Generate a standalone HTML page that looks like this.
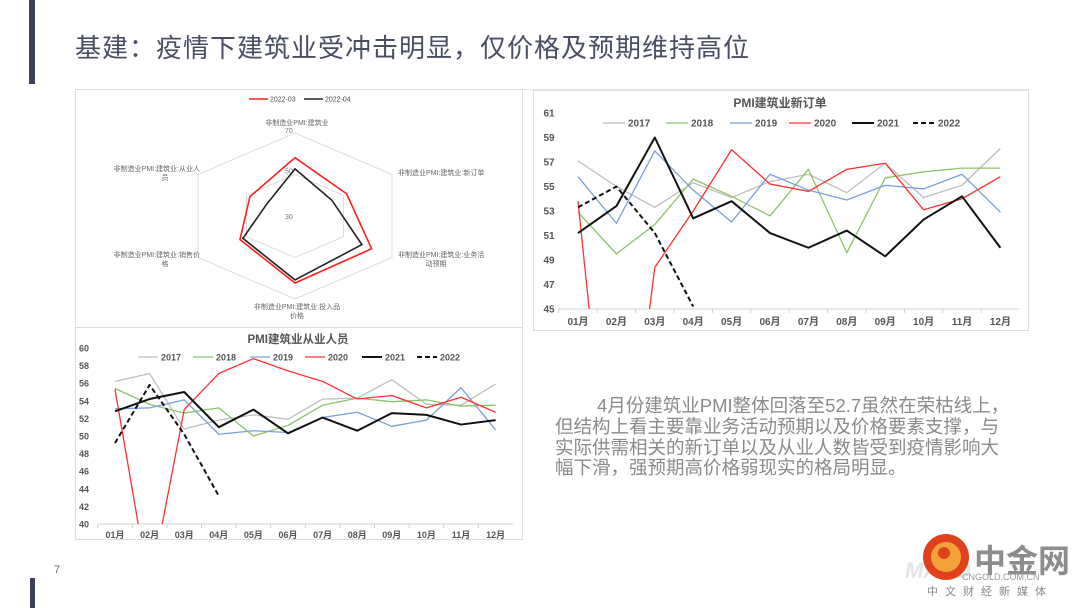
<!DOCTYPE html>
<html><head><meta charset="utf-8"><style>
html,body{margin:0;padding:0;background:#fff}
svg{display:block;font-family:"Liberation Sans","Noto Sans CJK SC",sans-serif}
</style></head><body>
<svg id="s" width="1080" height="608" viewBox="0 0 1080 608" xmlns="http://www.w3.org/2000/svg">
<defs>
<clipPath id="c2"><rect x="556" y="100" width="470" height="209"/></clipPath>
<clipPath id="c3"><rect x="96" y="340" width="420" height="184"/></clipPath>
</defs>
<rect x="29" y="0" width="6" height="84" fill="#3c4058"/>
<text x="75" y="57" font-size="26" fill="#4a4e63" letter-spacing="1">基建：疫情下建筑业受冲击明显，仅价格及预期维持高位</text>
<line x1="75" y1="89.5" x2="1030" y2="89.5" stroke="#e6e6e6"/>
<text x="54" y="573" font-size="11" fill="#666">7</text>
<rect x="30" y="578" width="5" height="30" fill="#3c4058"/>

<rect x="75.5" y="89.5" width="447" height="238" fill="#fff" stroke="#ddd"/>
<g id="radar"></g>

<rect x="533.5" y="90.5" width="495" height="240" fill="#fff" stroke="#ddd"/>
<g id="ch2"></g>

<rect x="75.5" y="327.5" width="447" height="212" fill="#fff" stroke="#ddd"/>
<g id="ch3"></g>

<g font-size="18.5" fill="#8a8a8a">
<text x="597" y="412">4月份建筑业PMI整体回落至52.7虽然在荣枯线上，</text>
<text x="555" y="433">但结构上看主要靠业务活动预期以及价格要素支撑，与</text>
<text x="555" y="454">实际供需相关的新订单以及从业人数皆受到疫情影响大</text>
<text x="555" y="474">幅下滑，强预期高价格弱现实的格局明显。</text>
</g>

<g>
<text x="905" y="578" font-size="22" font-style="italic" font-weight="bold" fill="#e4e4e4">MACD</text>
<circle cx="946" cy="557" r="23" fill="#e0401c"/>
<circle cx="946" cy="557" r="15" fill="#f3a23a"/>
<circle cx="944" cy="553" r="6" fill="#e0401c"/>
<text x="974" y="572" font-size="32" font-weight="bold" fill="#8c8c8c">中金网</text>
<text x="962" y="580" font-size="9" fill="#999">CNGOLD.COM.CN</text>
<text x="927" y="595" font-size="11" fill="#888" letter-spacing="7">中文财经新媒体</text>
</g>
</svg>
<script>
const NS='http://www.w3.org/2000/svg';
function mk(p,tag,at,txt){const e=document.createElementNS(NS,tag);for(const k in at)e.setAttribute(k,at[k]);if(txt!==undefined)e.textContent=txt;p.appendChild(e);return e;}

// ---------- Radar data ----------
const radarAxes=['非制造业PMI:建筑业','非制造业PMI:建筑业:新订单','非制造业PMI:建筑业:业务活动预期','非制造业PMI:建筑业:投入品价格','非制造业PMI:建筑业:销售价格','非制造业PMI:建筑业:从业人员'];
const radarMar=[58.1,51.3,61.6,62.3,52.7,48.6];
const radarApr=[52.7,45.2,57.6,60.8,51.5,41.6];
const radarTicks=[30,50,70];

// ---------- New orders data ----------
const months=['01月','02月','03月','04月','05月','06月','07月','08月','09月','10月','11月','12月'];
const seriesYears=['2017','2018','2019','2020','2021','2022'];
const no2017=[57.1,55.0,53.3,55.3,54.1,55.4,56.0,54.5,56.9,54.1,55.1,58.1];
const no2018=[52.9,49.5,51.9,55.6,54.2,52.6,56.4,49.6,55.7,56.2,56.5,56.5];
const no2019=[55.8,52.0,57.9,54.7,52.1,56.0,54.7,53.9,55.1,54.8,56.0,52.9];
const no2020=[53.8,23.5,48.4,53.0,58.0,55.2,54.6,56.4,56.9,53.1,54.0,55.8];
const no2021=[51.2,53.4,59.0,52.4,53.8,51.2,50.0,51.4,49.3,52.3,54.2,50.0];
const no2022=[53.3,55.0,51.2,45.2];
const noTicks=[45,47,49,51,53,55,57,59,61];

// ---------- Employment data ----------
const em2017=[56.2,57.1,50.8,51.8,52.4,51.9,54.2,54.3,56.4,53.6,53.5,55.9];
const em2018=[55.4,53.6,52.6,53.2,50.0,51.2,53.5,54.3,53.9,54.1,53.4,53.5];
const em2019=[53.1,53.2,54.1,50.2,50.6,50.4,52.1,52.7,51.1,51.8,55.5,50.7];
const em2020=[55.3,32.5,53.0,57.1,58.8,57.4,56.2,54.2,54.6,53.2,54.4,52.7];
const em2021=[52.8,54.2,55.0,51.0,53.0,50.3,52.1,50.6,52.6,52.4,51.3,51.8];
const em2022=[49.2,55.8,50.2,43.2];
const emTicks=[40,42,44,46,48,50,52,54,56,58,60];

const styles=[{c:'#bfbfbf',w:1.3,d:''},{c:'#8dc36a',w:1.3,d:''},{c:'#7a9ee0',w:1.3,d:''},{c:'#ff3030',w:1.3,d:''},{c:'#111',w:2,d:''},{c:'#111',w:2,d:'5,3'}];

// ---------- Radar ----------
(function(){
  const g=document.getElementById('radar');
  const cx=295,cy=216,rx=112,ry=83,mn=30,mx=70;
  function pt(i,v){const a=-Math.PI/2+i*Math.PI/3;const f=(v-mn)/(mx-mn);return [cx+rx*f*Math.cos(a),cy+ry*f*Math.sin(a)];}
  [50,70].forEach(t=>{const p=radarAxes.map((_,i)=>pt(i,t).join(',')).join(' ');
    const e=mk(g,'polygon',{points:p,fill:'none',stroke:'#ddd','stroke-width':1});
    
    });
  radarTicks.forEach(t=>{const [x,y]=pt(0,t);const e=mk(g,'text',{x:x-10,y:y+(t===30?3:t===50?-1:0),'font-size':7,fill:'#777'},String(t));
    
    });
  const lab=[[297,125,'middle',['非制造业PMI:建筑业']],[398,175,'start',['非制造业PMI:建筑业:新订单']],[398,257,'start',['非制造业PMI:建筑业:业务活','动预期']],[297,309,'middle',['非制造业PMI:建筑业:投入品','价格']],[200,257,'end',['非制造业PMI:建筑业:销售价','格']],[200,171,'end',['非制造业PMI:建筑业:从业人','员']]];
  lab.forEach((L,i)=>{L[3].forEach((s,j)=>{let x=L[0];if(j>0&&L[2]!=='middle'){x=L[2]==='start'?L[0]+38:L[0]-35;}
    const e=mk(g,'text',{x:x,y:L[1]+j*9,'font-size':7,fill:'#666','text-anchor':j>0?'middle':L[2]},s);
    
    });});
  [[radarMar,'#ff2020','radar-series-2022-03'],[radarApr,'#222','radar-series-2022-04']].forEach(([d,c,n])=>{
    const e=mk(g,'polygon',{points:d.map((v,i)=>pt(i,v).join(',')).join(' '),fill:'none',stroke:c,'stroke-width':1.6});
    
    });
  [['2022-03','#ff2020',250],['2022-04','#222',305]].forEach(([t,c,x])=>{
    const l=mk(g,'line',{x1:x-1,y1:99,x2:x+18,y2:99,stroke:c,'stroke-width':1.6});
    
    
    const e=mk(g,'text',{x:x+20,y:101.5,'font-size':7,fill:'#444'},t);
    
    });
})();

// ---------- Line chart helper ----------
function lineChart(id,o,data,ticks){
  const g=document.getElementById(id);
  const yv=v=>o.y0-(v-ticks[0])*(o.y0-o.y1)/(ticks[ticks.length-1]-ticks[0]);
  const xv=i=>o.x0+i*o.step;
  const t=mk(g,'text',{x:o.tx,y:o.ty,'font-size':o.tfs,'font-weight':'bold',fill:'#555','text-anchor':'middle'},o.title);
  
  
  ticks.forEach(v=>{const e=mk(g,'text',{x:o.ylx,y:yv(v)+3.5,'font-size':o.fs,'font-weight':'bold',fill:'#555','text-anchor':'middle'},String(v));
    
    });
  const ax=mk(g,'line',{x1:o.px0,y1:o.y0,x2:o.px1,y2:o.y0,stroke:'#d0d0d0'});
  
  
  months.forEach((m,i)=>{const tk=mk(g,'line',{x1:xv(i)-o.step/2,y1:o.y0,x2:xv(i)-o.step/2,y2:o.y0+4,stroke:'#d0d0d0'});
    
    
    const e=mk(g,'text',{x:xv(i),y:o.y0+o.xly,'font-size':o.fs,'font-weight':'bold',fill:'#555','text-anchor':'middle'},m);
    
    });
  const cg=mk(g,'g',{'clip-path':'url(#'+o.clip+')'});
  
  
  data.forEach((d,k)=>{const s=styles[k];
    const p=mk(cg,'polyline',{points:d.map((v,i)=>xv(i)+','+yv(v)).join(' '),fill:'none',stroke:s.c,'stroke-width':s.w,'stroke-dasharray':s.d,'stroke-linejoin':'round'});
    
    });
  seriesYears.forEach((yr,k)=>{const s=styles[k];const x=o.lx[k];
    const l=mk(g,'line',{x1:x,y1:o.ly,x2:x+o.ll,y2:o.ly,stroke:s.c,'stroke-width':s.w,'stroke-dasharray':s.d});
    
    
    const e=mk(g,'text',{x:x+o.ll+3,y:o.ly+3.5,'font-size':o.fs,'font-weight':'bold',fill:'#555'},yr);
    
    });
}
lineChart('ch2',{x0:578,step:38.4,y0:309,y1:113,px0:558,px1:1019,ylx:549,xly:16,fs:10,title:'PMI建筑业新订单',tx:780,ty:107,tfs:12,clip:'c2',ly:123,ll:22,lx:[603,666,730,789,852,913]},[no2017,no2018,no2019,no2020,no2021,no2022],noTicks);
lineChart('ch3',{x0:115,step:34.6,y0:524,y1:348,px0:98,px1:513,ylx:84,xly:14,fs:9,title:'PMI建筑业从业人员',tx:298,ty:343,tfs:11.5,clip:'c3',ly:357,ll:20,lx:[138,193,250,305,362,417]},[em2017,em2018,em2019,em2020,em2021,em2022],emTicks);
</script>
</body></html>
